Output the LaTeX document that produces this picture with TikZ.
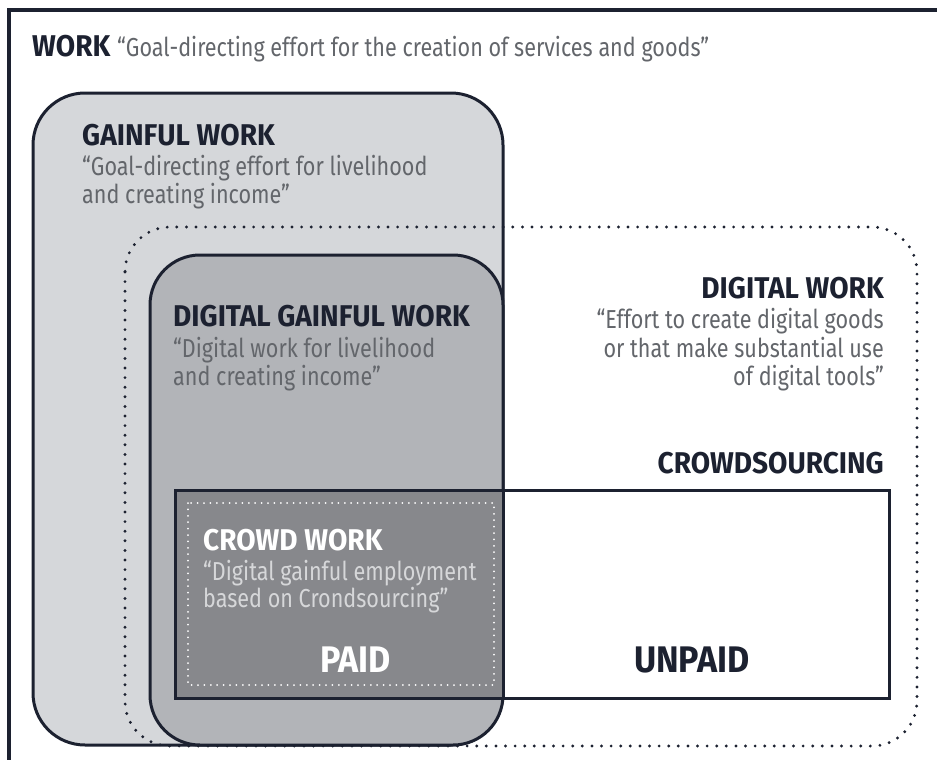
\documentclass[tikz,border=0pt]{standalone}
\usepackage{fontspec}
\newfontfamily\qfont[FakeStretch=0.83]{Fira Sans}
\newfontfamily\hfont[FakeStretch=0.935]{Fira Sans Bold}
\newfontfamily\bfont[FakeStretch=0.92]{Fira Sans Bold}
\definecolor{ink}{HTML}{1C2130}
\definecolor{quotegray}{HTML}{63666B}
\definecolor{gainfill}{HTML}{D5D7DA}
\definecolor{dgfill}{HTML}{B2B4B8}
\definecolor{cwfill}{HTML}{87888C}
\definecolor{cwquote}{HTML}{D6D7D9}
\tikzset{
  head/.style={font=\hfont\fontsize{30}{32}\selectfont, text=ink, inner sep=0pt},
  quote/.style={font=\qfont\fontsize{26}{28}\selectfont, text=quotegray, inner sep=0pt},
  big/.style={font=\bfont\fontsize{37}{40}\selectfont, inner sep=0pt},
  frame/.style={draw=ink, line width=3pt},
}
\begin{document}
\begin{tikzpicture}[x=1pt,y=-1pt]
\useasboundingbox (0,0) rectangle (937,760);
% outer WORK frame
\draw[frame, line width=3.5pt] (9,760) -- (9,10) -- (937,10);
% gainful work
\draw[frame, fill=gainfill, rounded corners=52pt] (33,93) rectangle (503,745);
% digital work (dotted)
\draw[ink, line width=3.2pt, line cap=round, dash pattern=on 0pt off 9.6pt, rounded corners=45pt] (125,227) rectangle (917,746);
% digital gainful work
\draw[frame, fill=dgfill, rounded corners=50pt] (150,255) rectangle (503,745);
% crowd work fill (intersection)
\fill[cwfill] (175,490) rectangle (503,698);
\draw[white, line width=2pt, line cap=round, dash pattern=on 0pt off 6.4pt] (188,503) rectangle (494,685);
% crowdsourcing
\draw[frame] (175,490) rectangle (889,698);
% digital gainful right edge through rect
\draw[ink, line width=3pt] (503,490) -- (503,698);

% texts
\node[head, anchor=base west] (work) at (32,57) {WORK};
\node[quote, anchor=base west] (workq) at (117,57) {“Goal-directing effort for the creation of services and goods”};

\node[head, anchor=base west] (gw) at (82,145) {GAINFUL WORK};
\node[quote, anchor=base west] (gwq1) at (82,175) {“Goal-directing effort for livelihood};
\node[quote, anchor=base west] (gwq2) at (82,203) {and creating income”};

\node[head, anchor=base west] (dgw) at (173,326) {DIGITAL GAINFUL WORK};
\node[quote, anchor=base west] (dgwq1) at (173,357) {“Digital work for livelihood};
\node[quote, anchor=base west] (dgwq2) at (173,385) {and creating income”};

\node[head, anchor=base east] (dw) at (884,298) {DIGITAL WORK};
\node[quote, anchor=base east] (dwq1) at (884,328) {“Effort to create digital goods};
\node[quote, anchor=base east] (dwq2) at (884,357) {or that make substantial use};
\node[quote, anchor=base east] (dwq3) at (884,385) {of digital tools”};

\node[head, anchor=base east] (cs) at (884,473) {CROWDSOURCING};

\node[head, text=white, anchor=base west] (cw) at (203,550) {CROWD WORK};
\node[quote, text=cwquote, anchor=base west] (cwq1) at (203,580) {“Digital gainful employment};
\node[quote, text=cwquote, anchor=base west] (cwq2) at (203,607) {based on Crondsourcing”};

\node[big, text=white, anchor=base west] (paid) at (320,672) {PAID};
\node[big, text=ink, anchor=base west] (unpaid) at (634,672) {UNPAID};
\end{tikzpicture}
\end{document}
